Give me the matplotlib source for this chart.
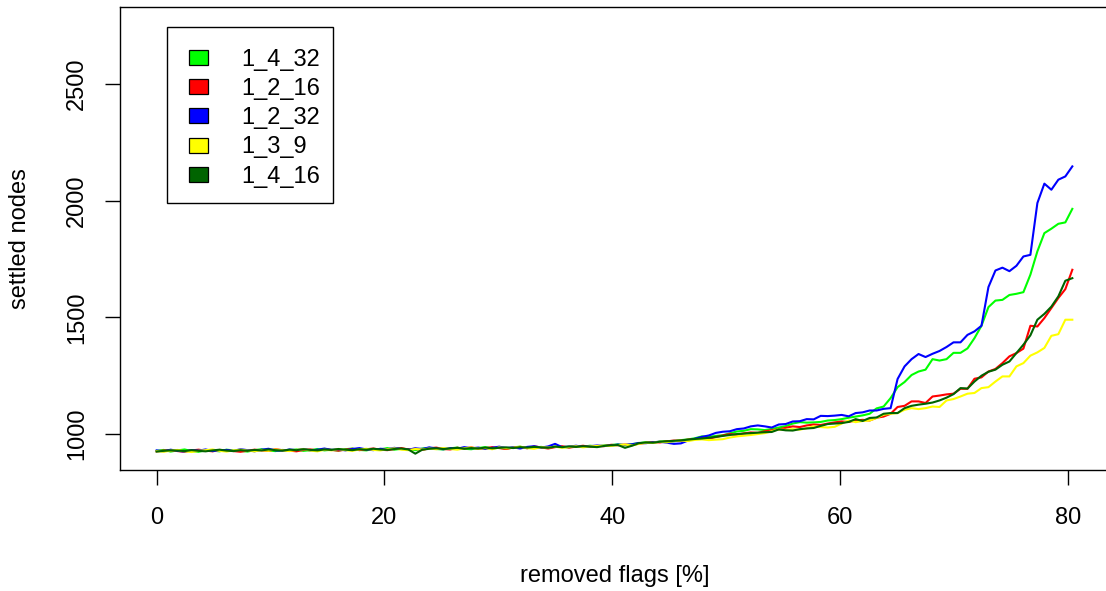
import numpy as np
import matplotlib
matplotlib.use("Agg")
import matplotlib.pyplot as plt
from matplotlib.patches import Rectangle

plt.rcParams["font.family"] = ["Liberation Sans", "DejaVu Sans"]

# removed flags [%]: 132 evenly spaced measurement points
n_points = 132
x_max = 80.4

labels = ["1_4_32", "1_2_16", "1_2_32", "1_3_9", "1_4_16"]
colors = ["#00FF00", "#FF0000", "#0000FF", "#FFFF00", "#006400"]

s_1_4_32 = [
    928, 932, 925, 930, 934, 927, 924, 931, 929, 926,
    933, 930, 928, 925, 931, 935, 929, 927, 932, 930,
    934, 928, 931, 936, 930, 933, 929, 935, 938, 932,
    930, 936, 934, 940, 933, 937, 935, 931, 938, 941,
    936, 934, 939, 942, 937, 935, 940, 944, 939, 941,
    937, 943, 946, 940, 942, 945, 941, 947, 944, 943,
    948, 946, 950, 947,
    951, 953, 956, 952, 957, 961, 965, 963, 968, 970, 969, 974, 977,
    982, 990, 988, 992, 995, 1003, 1011, 1014, 1021, 1020,
    1017, 1022, 1028, 1034, 1045, 1051, 1049, 1050, 1052, 1058,
    1060, 1064, 1070, 1075, 1080,
    1087, 1110, 1118, 1154, 1201, 1223, 1253, 1268, 1276, 1321,
    1315, 1321, 1348, 1348, 1367, 1411, 1464, 1544, 1572, 1575,
    1596, 1601, 1608, 1683, 1783, 1861, 1880, 1901, 1907, 1965,
]

s_1_2_16 = [
    926, 929, 931, 927, 924, 930, 933, 929, 926, 932,
    930, 927, 924, 929, 933, 930, 928, 935, 931, 929,
    926, 932, 934, 930, 936, 932, 929, 933, 937, 931,
    935, 938, 933, 931, 936, 940, 934, 937, 932, 939,
    942, 936, 934, 941, 938, 943, 937, 939, 944, 940,
    936, 942, 945, 939, 947, 943, 938, 944, 948, 942,
    946, 950, 945, 949,
    948, 954, 952, 955, 953, 959, 962, 966, 964, 969, 972, 971, 976,
    978, 983, 980, 987, 994, 1000, 997, 1003, 1007, 1005,
    1012, 1016, 1020, 1027, 1033, 1030, 1037, 1041, 1039, 1045,
    1050, 1054, 1052, 1058, 1061,
    1058, 1070, 1075, 1087, 1116, 1121, 1140, 1140, 1133, 1161,
    1165, 1170, 1173, 1194, 1194, 1237, 1243, 1268, 1279, 1304,
    1333, 1347, 1366, 1464, 1461, 1497, 1540, 1583, 1621, 1704,
]

s_1_2_32 = [
    930, 926, 933, 928, 925, 931, 929, 934, 927, 930,
    932, 928, 935, 931, 926, 933, 937, 930, 928, 934,
    931, 936, 929, 933, 938, 932, 935, 930, 936, 940,
    934, 931, 937, 935, 941, 936, 933, 939, 936, 943,
    938, 935, 940, 937, 944, 939, 942, 936, 941, 946,
    940, 943, 938, 945, 948, 942, 947, 958, 944, 946,
    950, 945, 948, 951,
    949, 951, 955, 953, 956, 962, 961, 965, 967, 963, 958, 960, 972,
    980, 988, 994, 1005, 1010, 1012, 1021, 1024, 1033, 1037,
    1033, 1028, 1041, 1043, 1054, 1055, 1064, 1063, 1078, 1077,
    1079, 1082, 1076, 1090, 1093,
    1101, 1101, 1108, 1111, 1236, 1290, 1321, 1343, 1330, 1344,
    1356, 1373, 1393, 1393, 1425, 1440, 1464, 1630, 1701, 1713,
    1698, 1721, 1761, 1768, 1990, 2073, 2047, 2090, 2104, 2147,
]

s_1_3_9 = [
    927, 924, 929, 932, 926, 923, 928, 931, 934, 928,
    925, 930, 933, 929, 926, 931, 928, 934, 930, 927,
    932, 935, 929, 926, 933, 930, 936, 931, 928, 934,
    937, 932, 930, 935, 939, 933, 931, 936, 934, 938,
    935, 940, 936, 933, 939, 942, 937, 940, 935, 943,
    939, 941, 946, 940, 937, 944, 942, 946, 941, 945,
    948, 943, 947, 949,
    950, 949, 953, 955, 951, 958, 963, 962, 967, 965, 970, 972, 970,
    975, 977, 974, 976, 978, 985, 990, 993, 996, 1000,
    1004, 1012, 1020, 1018, 1021, 1019, 1025, 1033, 1030, 1028,
    1031, 1045, 1058, 1051, 1056,
    1058, 1069, 1083, 1087, 1090, 1104, 1111, 1107, 1111, 1118,
    1116, 1144, 1150, 1161, 1173, 1176, 1197, 1201, 1225, 1247,
    1247, 1290, 1304, 1336, 1350, 1369, 1421, 1428, 1490, 1490,
]

s_1_4_16 = [
    925, 928, 930, 929, 927, 931, 928, 926, 930, 933,
    929, 927, 931, 928, 932, 930, 934, 931, 929, 933,
    931, 935, 932, 930, 934, 932, 936, 933, 931, 935,
    933, 937, 934, 932, 936, 938, 934, 916, 933, 937,
    939, 936, 938, 941, 937, 940, 938, 942, 939, 941,
    943, 940, 944, 942, 945, 943, 941, 946, 944, 947,
    945, 948, 946, 944,
    949, 952, 953, 941, 950, 961, 964, 963, 967, 969, 971, 973, 976,
    979, 981, 984, 988, 992, 996, 1000, 1002, 1004, 1006,
    1008, 1009, 1020, 1016, 1015, 1021, 1024, 1026, 1035, 1043,
    1045, 1047, 1052, 1064, 1056,
    1069, 1071, 1087, 1090, 1090, 1111, 1121, 1126, 1130, 1135,
    1144, 1156, 1171, 1197, 1195, 1225, 1250, 1267, 1276, 1297,
    1311, 1347, 1383, 1423, 1490, 1515, 1546, 1590, 1657, 1668,
]

series = [s_1_4_32, s_1_2_16, s_1_2_32, s_1_3_9, s_1_4_16]

x_ticks = [0, 20, 40, 60, 80]
y_ticks = [1000, 1500, 2000, 2500]

FS = 17
W, H = 1106, 591
fig = plt.figure(figsize=(W / 100, H / 100), dpi=100)

# plot region in pixels: left 120, right 1109 (runs just past the edge), top 7, bottom 470
left, right, top, bottom = 120, 1109, 7, 470
ax = fig.add_axes([left / W, 1 - bottom / H, (right - left) / W, (bottom - top) / H])

x = np.linspace(0, x_max, n_points)
for vals, col in zip(series, colors):
    ax.plot(x, vals, color=col, linewidth=1.5, solid_joinstyle="round")

ax.set_xlim(-3.22, 83.62)
ax.set_ylim(846, 2830)
ax.set_xticks(x_ticks)
ax.set_yticks(y_ticks)
ax.set_yticklabels([str(v) for v in y_ticks], rotation=90, va="center")

for sp in ax.spines.values():
    sp.set_linewidth(1.0)
    sp.set_color("black")

ax.tick_params(axis="both", direction="out", length=10.8, width=1.0,
               labelsize=FS, colors="black")
ax.tick_params(axis="x", pad=16)
ax.tick_params(axis="y", pad=12)

ax.set_xlabel("removed flags [%]", fontsize=FS)
ax.set_ylabel("settled nodes", fontsize=FS)
ax.xaxis.set_label_coords(0.5, (bottom - 565) / (bottom - top))
ax.yaxis.set_label_coords((31 - left) / (right - left), 0.5)


def fpos(px, py):
    return px / W, 1 - py / H


# legend box
fx0, fy1 = fpos(167.3, 203.3)
fig.patches.append(Rectangle((fx0, fy1), 166 / W, 176 / H, transform=fig.transFigure,
                             facecolor="white", edgecolor="black", linewidth=1.0,
                             zorder=5))
row_y0, row_step = 57.5, 29.2
for k, (lab, col) in enumerate(zip(labels, colors)):
    cy = row_y0 + k * row_step
    sx, sy = fpos(189.3, cy + 7.5)
    fig.patches.append(Rectangle((sx, sy), 18.4 / W, 15 / H, transform=fig.transFigure,
                                 facecolor=col, edgecolor="black", linewidth=0.9,
                                 zorder=6))
    tx, ty = fpos(241.7, cy + 8.2)
    fig.text(tx, ty, lab, fontsize=FS, va="baseline", ha="left", zorder=7)

fig.savefig("out.png", dpi=100)
